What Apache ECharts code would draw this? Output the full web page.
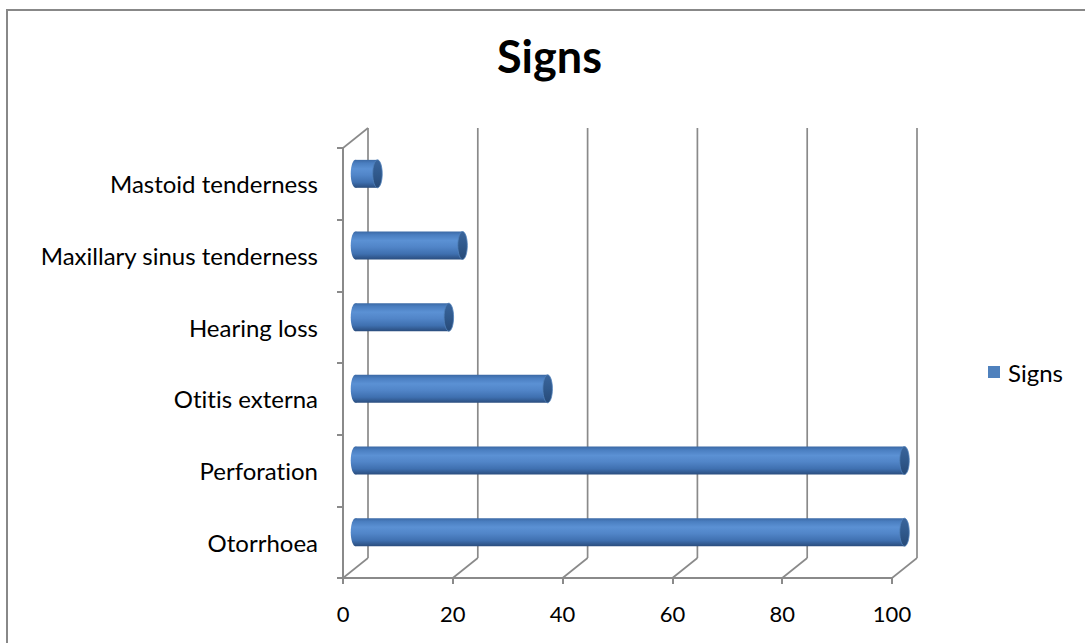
<!DOCTYPE html>
<html>
<head>
<meta charset="utf-8">
<title>Signs</title>
<script src="https://cdn.jsdelivr.net/npm/echarts@6/dist/echarts.min.js"></script>
<style>
  html, body { margin: 0; padding: 0; background: #ffffff; }
  #main { width: 1085px; height: 643px; }
  #main svg text { font-variant-ligatures: none; }
</style>
</head>
<body>
<div id="main"></div>
<script>
// Categories listed bottom to top, as on the vertical axis
const categories = ['Otorrhoea', 'Perforation', 'Otitis externa', 'Hearing loss', 'Maxillary sinus tenderness', 'Mastoid tenderness'];
const values = [100, 100, 35, 17, 19.5, 4];
const xTicks = [0, 20, 40, 60, 80, 100];
const seriesName = 'Signs';

// Perspective offset of the back wall relative to the front axes (pixels)
const DEPTH = [25, -20];
const FONT = 'Lato, "Open Sans", sans-serif';
const AXIS_GREY = '#8a8a8a';

const chart = echarts.init(document.getElementById('main'), null, { renderer: 'svg' });

// Back-wall gridlines: a receding diagonal from each x tick, then a vertical line on the back wall
function renderWall(params, api) {
  const cs = params.coordSys;
  const v = api.value(0);
  const x = api.coord([v, 0])[0];
  const bottom = cs.y + cs.height;
  const top = cs.y;
  const bx = x + DEPTH[0];
  const lineStyle = { stroke: AXIS_GREY, lineWidth: 1.7 };
  const children = [
    { type: 'line', shape: { x1: x, y1: bottom, x2: bx, y2: bottom + DEPTH[1] }, style: lineStyle },
    { type: 'line', shape: { x1: bx, y1: bottom + DEPTH[1], x2: bx, y2: top + DEPTH[1] }, style: lineStyle }
  ];
  if (params.dataIndex === 0) {
    // top edge of the side wall
    children.push({ type: 'line', shape: { x1: x, y1: top, x2: bx, y2: top + DEPTH[1] }, style: lineStyle });
  }
  return { type: 'group', children };
}

// Cylinder bars, drawn half way into the depth of the plot
function renderCylinder(params, api) {
  const v = api.value(0);
  const c = api.value(1);
  const p0 = api.coord([0, c]);
  const p1 = api.coord([v, c]);
  const band = api.size([0, 1])[1];
  const h = band * 0.39;
  const ry = h / 2;
  const rx = ry * 0.34;
  const x0 = p0[0] + DEPTH[0] / 2;
  const x1 = p1[0] + DEPTH[0] / 2;
  const cy = p0[1] + DEPTH[1] / 2;

  const bodyFill = new echarts.graphic.LinearGradient(0, 0, 0, 1, [
    { offset: 0, color: '#3b69a5' },
    { offset: 0.12, color: '#4a7ec0' },
    { offset: 0.32, color: '#5b91d4' },
    { offset: 0.55, color: '#5185c8' },
    { offset: 0.8, color: '#3f70b0' },
    { offset: 1, color: '#2a4d7e' }
  ]);
  const capFill = new echarts.graphic.LinearGradient(0, 0, 0, 1, [
    { offset: 0, color: '#3a659c' },
    { offset: 0.5, color: '#30598c' },
    { offset: 1, color: '#274a78' }
  ]);

  return {
    type: 'group',
    children: [
      { type: 'ellipse', shape: { cx: x0, cy: cy, rx: rx, ry: ry }, style: { fill: bodyFill } },
      { type: 'rect', shape: { x: x0, y: cy - ry, width: Math.max(x1 - x0, 0), height: h }, style: { fill: bodyFill } },
      { type: 'ellipse', shape: { cx: x1, cy: cy, rx: rx, ry: ry }, style: { fill: capFill, stroke: '#5081bb', lineWidth: 0.8 } }
    ]
  };
}

const option = {
  backgroundColor: '#ffffff',
  animation: false,
  title: {
    text: 'Signs',
    left: 497,
    top: 33,
    padding: 0,
    textStyle: { fontFamily: FONT, fontSize: 45, fontWeight: 'bold', color: '#000000' }
  },
  legend: {
    data: [seriesName],
    left: 988,
    top: 360,
    padding: 0,
    icon: 'rect',
    itemWidth: 12,
    itemHeight: 12,
    itemGap: 6,
    textStyle: { fontFamily: FONT, fontSize: 24, color: '#000000', padding: [0, 0, 0, 3] }
  },
  graphic: [
    {
      type: 'rect',
      shape: { x: 7, y: 10, width: 1200, height: 800 },
      style: { fill: 'none', stroke: '#888888', lineWidth: 2 },
      silent: true
    }
  ],
  grid: { left: 343, top: 148, width: 549, height: 430 },
  xAxis: {
    type: 'value',
    min: 0,
    max: 100,
    interval: 20,
    axisLine: { show: true, lineStyle: { color: AXIS_GREY, width: 2 } },
    axisTick: { show: true, length: 6, lineStyle: { color: AXIS_GREY, width: 2 } },
    axisLabel: {
      fontFamily: FONT, fontSize: 22, color: '#000000', margin: 24,
      formatter: (v) => (xTicks.indexOf(v) >= 0 ? String(v) : '')
    },
    splitLine: { show: false }
  },
  yAxis: {
    type: 'category',
    data: categories,
    axisLine: { show: true, lineStyle: { color: AXIS_GREY, width: 2 } },
    axisTick: { show: true, length: 6, lineStyle: { color: AXIS_GREY, width: 2 } },
    axisLabel: { fontFamily: FONT, fontSize: 24, color: '#000000', margin: 25 },
    splitLine: { show: false }
  },
  series: [
    {
      name: 'wall',
      type: 'custom',
      silent: true,
      z: 1,
      renderItem: renderWall,
      encode: { x: 0, y: 1 },
      data: xTicks.map((t) => [t, 0])
    },
    {
      name: seriesName,
      type: 'custom',
      z: 3,
      itemStyle: { color: '#4f81bd' },
      renderItem: renderCylinder,
      encode: { x: 0, y: 1 },
      data: values.map((v, i) => [v, i])
    }
  ]
};

chart.setOption(option);
</script>
</body>
</html>
